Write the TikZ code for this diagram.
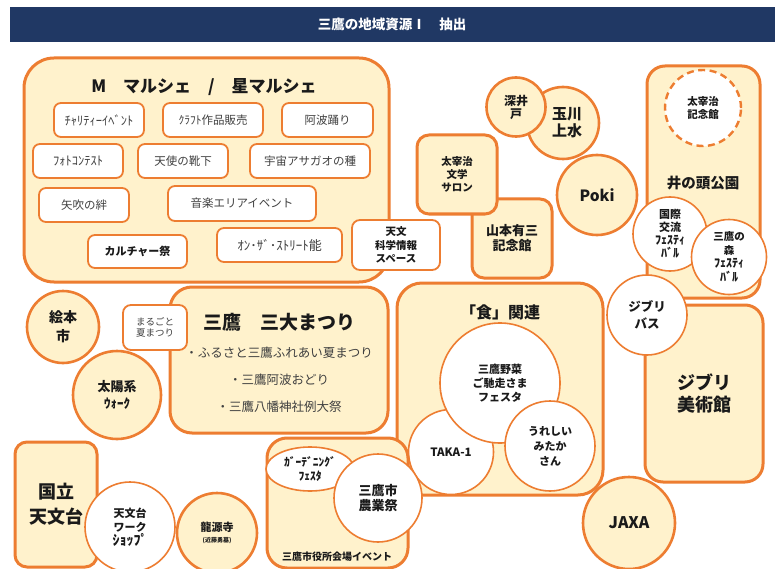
\documentclass[tikz,border=0pt]{standalone}
\usepackage{fontspec}
\setmainfont{Noto Sans CJK JP}
\usetikzlibrary{shapes.geometric}
\definecolor{orangec}{HTML}{ED7D31}
\definecolor{creamc}{HTML}{FFF2CC}
\definecolor{navyc}{HTML}{203864}
\definecolor{txt}{HTML}{1A1A1A}
\definecolor{txtg}{HTML}{404040}
\newcommand\fsz[2]{\fontsize{#1}{#2}\selectfont}
\begin{document}
\begin{tikzpicture}[x=1pt,y=-1pt,
  creambox/.style={rectangle, draw=orangec, fill=creamc, line width=3pt, inner sep=0pt},
  whitebox/.style={rectangle, draw=orangec, fill=white, line width=1.8pt, rounded corners=7pt, inner sep=0pt, text=txtg, font=\fsz{11.5}{13}},
  ccirc/.style={circle, draw=orangec, fill=creamc, line width=2.6pt, inner sep=0pt, align=center, text=txt},
  wcirc/.style={circle, draw=orangec, fill=white, line width=1.6pt, inner sep=0pt, align=center, text=txt},
  lbl/.style={inner sep=0pt, align=center, text=txt}]
\path[fill=white,use as bounding box] (0,0) rectangle (775,569);
% header
\node[fill=navyc, minimum width=765pt, minimum height=35pt, inner sep=0pt, anchor=north west] (hdr) at (10,7) {};
\node[text=white, inner sep=0pt, font=\fsz{13.5}{15}\bfseries] (hdrt) at (392,24) {三鷹の地域資源Ⅰ　抽出};
% M marche
\node[creambox, rounded corners=30pt, minimum width=365pt, minimum height=224pt] (mbox) at (206.5,170) {};
\node[lbl, font=\fsz{17}{19}\bfseries] (mtitle) at (204,87) {M　マルシェ　/　星マルシェ};
\node[whitebox, minimum width=90pt, minimum height=34pt, font=\fsz{12.5}{13}] (chari) at (99,120) {ﾁｬﾘﾃｨｰｲﾍﾞﾝﾄ};
\node[whitebox, minimum width=100pt, minimum height=34pt] (craft) at (213,120) {ｸﾗﾌﾄ作品販売};
\node[whitebox, minimum width=91pt, minimum height=34pt] (awa) at (327.5,120) {阿波踊り};
\node[whitebox, minimum width=90pt, minimum height=34pt, font=\fsz{12.5}{13}] (photo) at (78,161) {ﾌｫﾄｺﾝﾃｽﾄ};
\node[whitebox, minimum width=90pt, minimum height=34pt] (tenshi) at (183,161) {天使の靴下};
\node[whitebox, minimum width=120pt, minimum height=34pt] (uchu) at (310,161) {宇宙アサガオの種};
\node[whitebox, minimum width=90pt, minimum height=34pt] (yabuki) at (84,205) {矢吹の絆};
\node[whitebox, minimum width=148pt, minimum height=35pt] (ongaku) at (242,203.5) {音楽エリアイベント};
\node[whitebox, minimum width=99pt, minimum height=33pt, text=txt, font=\fsz{11}{13}\bfseries] (culture) at (137.5,251.5) {カルチャー祭};
\node[whitebox, minimum width=125pt, minimum height=34pt, font=\fsz{13}{14}] (onthe) at (279.5,245) {ｵﾝ･ｻﾞ･ｽﾄﾘｰﾄ能};
\node[whitebox, minimum width=88pt, minimum height=50pt, rounded corners=8pt, align=center, text=txt, font=\fsz{10.5}{13.5}\bfseries] (tinfo) at (396,245) {天文\\科学情報\\スペース};
% top right
\node[ccirc, minimum size=72pt, font=\fsz{15}{17}\bfseries] (tama) at (563,123) {\hspace*{8pt}玉川\\\hspace*{8pt}上水};
\node[ccirc, minimum size=59pt, font=\fsz{12}{13}\bfseries] (fukai) at (516,107) {深井\\戸};
\node[creambox, rounded corners=12pt, minimum width=80pt, minimum height=79pt, align=center, text=txt, font=\fsz{13}{15}\bfseries] (yama) at (512,238.5) {山本有三\\記念館};
\node[creambox, rounded corners=12pt, minimum width=80pt, minimum height=79pt, align=center, text=txt, font=\fsz{10.5}{13}\bfseries] (salon) at (457,174.5) {太宰治\\文学\\サロン};
\node[ccirc, minimum size=80pt, font=\fsz{15.5}{17}\bfseries] (poki) at (597,195) {Poki};
\node[creambox, rounded corners=18pt, minimum width=113pt, minimum height=232pt] (inok) at (703.5,182) {};
\node[lbl, font=\fsz{14.5}{16}\bfseries] (inokt) at (703,183) {井の頭公園};
\node[wcirc, line width=2.4pt, dash pattern=on 7pt off 4.5pt, minimum size=76pt, font=\fsz{10.5}{12.5}\bfseries] (dazai) at (703,108) {太宰治\\記念館};
\node[wcirc, minimum size=74pt, font=\fsz{11}{13}\bfseries] (koku) at (670,234) {国際\\交流\\{\fsz{12}{13}ﾌｪｽﾃｨ}\\{\fsz{12}{13}ﾊﾞﾙ}};
\node[wcirc, minimum size=75pt, font=\fsz{10.5}{13.5}\bfseries] (mori) at (729,257) {三鷹の\\森\\{\fsz{12}{13.5}ﾌｪｽﾃｨ}\\{\fsz{12}{13.5}ﾊﾞﾙ}};
% middle left
\node[ccirc, minimum size=72pt, font=\fsz{14}{19}\bfseries] (ehon) at (63,327) {絵本\\市};
\node[ccirc, minimum size=88pt, font=\fsz{13}{17}\bfseries] (taiyo) at (117,395) {太陽系\\{\fsz{13}{14}ｳｫｰｸ}};
\node[creambox, rounded corners=22pt, minimum width=218pt, minimum height=146pt] (sandai) at (279,360) {};
\node[lbl, font=\fsz{19}{21}\bfseries] (sandait) at (279,322) {三鷹　三大まつり};
\node[lbl, text=txtg, font=\fsz{12.5}{14}] (sd1) at (279,353) {・ふるさと三鷹ふれあい夏まつり};
\node[lbl, text=txtg, font=\fsz{12.5}{14}] (sd2) at (279,380) {・三鷹阿波おどり};
\node[lbl, text=txtg, font=\fsz{12.5}{14}] (sd3) at (279,407) {・三鷹八幡神社例大祭};
\node[whitebox, rounded corners=8pt, minimum width=64pt, minimum height=45pt, align=center, font=\fsz{9.5}{11.5}] (maru) at (155,327.5) {まるごと\\夏まつり};
% food
\node[creambox, rounded corners=25pt, minimum width=206pt, minimum height=212pt] (shoku) at (500,389) {};
\node[lbl, font=\fsz{16}{18}\bfseries] (shokut) at (500,312) {「食」関連};
\node[wcirc, minimum size=85pt, font=\fsz{11.5}{13}\bfseries] (taka) at (451,452) {TAKA-1};
\node[wcirc, minimum size=120pt, font=\fsz{11}{14}\bfseries] (yasai) at (500,383) {三鷹野菜\\ご馳走さま\\フェスタ};
\node[wcirc, minimum size=90pt, font=\fsz{11}{15}\bfseries] (ureshii) at (550,446) {うれしい\\みたか\\さん};
% ghibli
\node[creambox, rounded corners=18pt, minimum width=118pt, minimum height=177pt, align=center, text=txt, font=\fsz{18}{22}\bfseries] (museum) at (704,393.5) {ジブリ\\美術館};
\node[wcirc, minimum size=80pt, font=\fsz{12.5}{17}\bfseries] (bus) at (647,315) {ジブリ\\バス};
% bottom
\node[creambox, rounded corners=12pt, minimum width=82pt, minimum height=125pt, align=center, text=txt, font=\fsz{18}{25}\bfseries] (kokuritsu) at (56,504.5) {国立\\天文台};
\node[wcirc, minimum size=90pt, font=\fsz{11}{14}\bfseries] (wshop) at (130,527) {天文台\\ワーク\\{\fsz{14}{14}ｼｮｯﾌﾟ}};
\node[ccirc, minimum size=80pt, font=\fsz{11}{11}\bfseries] (ryu) at (217,533) {龍源寺\\{\fsz{6}{7}(近藤勇墓)}};
\node[creambox, rounded corners=20pt, minimum width=141pt, minimum height=130pt] (shiya) at (337.5,503) {};
\node[lbl, font=\fsz{10}{12}\bfseries] (shiyat) at (337,557) {三鷹市役所会場イベント};
\node[ellipse, draw=orangec, fill=white, line width=1.6pt, minimum width=88pt, minimum height=44pt, inner sep=0pt, align=center, text=txt, font=\fsz{11.5}{14}\bfseries] (garden) at (310,469) {ｶﾞｰﾃﾞﾆﾝｸﾞ\\ﾌｪｽﾀ};
\node[wcirc, minimum size=88pt, font=\fsz{13}{15}\bfseries] (nogyo) at (378,498) {三鷹市\\農業祭};
\node[ccirc, minimum size=92pt, font=\fsz{16}{18}\bfseries] (jaxa) at (629,523) {JAXA};
\end{tikzpicture}
\end{document}
